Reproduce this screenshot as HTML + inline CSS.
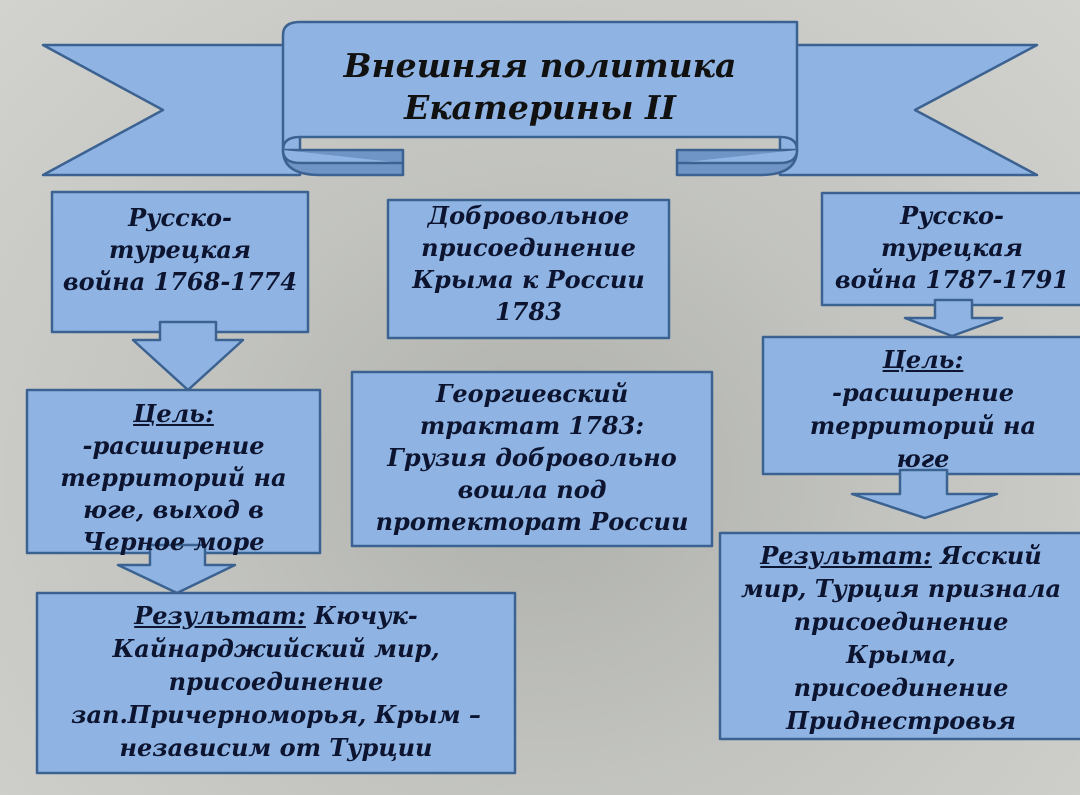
<!DOCTYPE html>
<html><head><meta charset="utf-8"><style>
body{margin:0;width:1080px;height:795px;overflow:hidden;position:relative;
background:radial-gradient(ellipse at 50% 60%,#aeb0ab 0%,#c2c3bf 45%,#d2d2ce 100%);}
svg{position:absolute;left:0;top:0}
.t{position:absolute;text-align:center;font-family:"DejaVu Serif","Liberation Serif",serif;font-weight:bold;font-style:italic;color:#0c1430;font-size:24px;line-height:32px;white-space:nowrap;letter-spacing:0px}
u{text-decoration:underline}
</style></head><body>
<svg width="1080" height="795">
<g fill="#8fb4e3" stroke="#3b6290" stroke-width="2.5" stroke-linejoin="round">
<polygon points="43,45 300,45 300,175 43,175 163,110"/>
<polygon points="1037,45 780,45 780,175 1037,175 915,110"/>
<path d="M283,150 Q283,175 320,175 L403,175 L403,150 Z" fill="#6f95c6"/>
<path d="M797,150 Q797,175 760,175 L677,175 L677,150 Z" fill="#6f95c6"/>
<path d="M283,35 Q283,22 300,22 L797,22 L797,150 Q797,137 780,137 L300,137 Q283,137 283,150 Z"/>
<path d="M283,150 Q283,163 300,163 L403,163"/>
<path d="M797,150 Q797,163 780,163 L677,163"/>
<rect x="52" y="192" width="256" height="140"/>
<rect x="388" y="200" width="281" height="138"/>
<rect x="822" y="193" width="260" height="112"/>
<polygon points="160,322 216,322 216,340 243,340 188,390 133,340 160,340"/>
<rect x="27" y="390" width="293" height="163"/>
<polygon points="150,545 205,545 205,565 235,565 177,593 118,565 150,565"/>
<rect x="37" y="593" width="478" height="180"/>
<rect x="352" y="372" width="360" height="174"/>
<polygon points="935,300 972,300 972,318 1002,318 952,336 905,318 935,318"/>
<rect x="763" y="337" width="320" height="137"/>
<polygon points="900,470 947,470 947,494 997,494 925,518 852,494 900,494"/>
<rect x="720" y="533" width="362" height="206"/>
</g>
</svg>
<div class="t" style="left:283px;top:45px;width:514px;font-size:33px;line-height:42px;color:#111">Внешняя политика<br>Екатерины II</div>
<div class="t" style="left:52px;top:202px;width:256px">Русско-<br>турецкая<br>война 1768-1774</div>
<div class="t" style="left:388px;top:200px;width:281px">Добровольное<br>присоединение<br>Крыма к России<br>1783</div>
<div class="t" style="left:822px;top:200px;width:260px">Русско-<br>турецкая<br>война 1787-1791</div>
<div class="t" style="left:27px;top:398px;width:293px"><u>Цель:</u><br>-расширение<br>территорий на<br>юге, выход в<br>Черное море</div>
<div class="t" style="left:352px;top:378px;width:360px">Георгиевский<br>трактат 1783:<br>Грузия добровольно<br>вошла под<br>протекторат России</div>
<div class="t" style="left:763px;top:343px;width:320px;line-height:33px"><u>Цель:</u><br>-расширение<br>территорий на<br>юге</div>
<div class="t" style="left:37px;top:599px;width:478px;line-height:33px"><u>Результат:</u> Кючук-<br>Кайнарджийский мир,<br>присоединение<br>зап.Причерноморья, Крым –<br>независим от Турции</div>
<div class="t" style="left:720px;top:539px;width:362px;line-height:33px"><u>Результат:</u> Ясский<br>мир, Турция признала<br>присоединение<br>Крыма,<br>присоединение<br>Приднестровья</div>
</body></html>
